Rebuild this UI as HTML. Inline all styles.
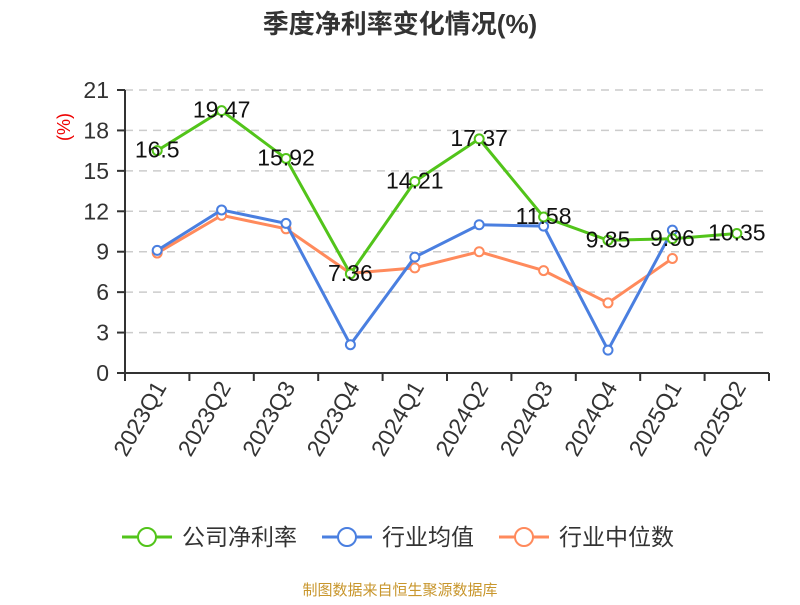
<!DOCTYPE html>
<html><head><meta charset="utf-8"><style>
body{margin:0;background:#fff;font-family:"Liberation Sans","Noto Sans CJK SC",sans-serif}
</style></head><body>
<svg id="c" width="800" height="600" xmlns="http://www.w3.org/2000/svg" style="font-family:'Liberation Sans','Noto Sans CJK SC',sans-serif">
<text x="400" y="33" text-anchor="middle" font-size="26" font-weight="bold" fill="#333">季度净利率变化情况(%)</text>
<text transform="translate(70,127) rotate(-90)" text-anchor="middle" font-size="18" fill="#e00">(%)</text>
<g id="grid"></g><g id="axes"></g><g id="series"></g><g id="labels"></g>
<g>
<g><line x1="122" y1="537" x2="172" y2="537" stroke="#52c41a" stroke-width="3"/><circle cx="147" cy="537" r="9" fill="#fff" stroke="#52c41a" stroke-width="2"/><text x="182" y="545" font-size="23" fill="#333">公司净利率</text></g>
<g><line x1="322" y1="537" x2="372" y2="537" stroke="#4a7fe0" stroke-width="3"/><circle cx="347" cy="537" r="9" fill="#fff" stroke="#4a7fe0" stroke-width="2"/><text x="382" y="545" font-size="23" fill="#333">行业均值</text></g>
<g><line x1="499" y1="537" x2="549" y2="537" stroke="#ff8a5c" stroke-width="3"/><circle cx="524" cy="537" r="9" fill="#fff" stroke="#ff8a5c" stroke-width="2"/><text x="559" y="545" font-size="23" fill="#333">行业中位数</text></g>
</g>
<text x="400" y="595" text-anchor="middle" font-size="15" fill="#c8962c">制图数据来自恒生聚源数据库</text>
</svg>
<script>
const categories=["2023Q1","2023Q2","2023Q3","2023Q4","2024Q1","2024Q2","2024Q3","2024Q4","2025Q1","2025Q2"];
const company=[16.5,19.47,15.92,7.36,14.21,17.37,11.58,9.85,9.96,10.35];
const industryAvg=[9.1,12.1,11.1,2.1,8.6,11.0,10.9,1.7,10.6];
const industryMedian=[8.9,11.7,10.7,7.4,7.8,9.0,7.6,5.2,8.5];
const yTicks=[0,3,6,9,12,15,18,21];
const NS="http://www.w3.org/2000/svg";
const x0=125,x1=769,y0=373,y1=90,ymax=21;
const bw=(x1-x0)/categories.length;
const X=i=>x0+bw*(i+0.5);
const Y=v=>y0-(v/ymax)*(y0-y1);
function mk(t,a,p){const e=document.createElementNS(NS,t);for(const k in a)e.setAttribute(k,a[k]);p.appendChild(e);return e;}
const grid=document.getElementById('grid'),axes=document.getElementById('axes');
yTicks.forEach(v=>{
 if(v>0){const l=mk('line',{x1:x0,x2:x1,y1:Y(v),y2:Y(v),stroke:'#ccc','stroke-width':1.5,'stroke-dasharray':'8,6'},grid);
 }
 const tk=mk('line',{x1:x0-8,x2:x0,y1:Y(v),y2:Y(v),stroke:'#333','stroke-width':2},axes);
 
 const t=mk('text',{x:x0-16,y:Y(v)+8,'text-anchor':'end','font-size':23,fill:'#333'},axes);t.textContent=v;
 
});
const ya=mk('line',{x1:x0,x2:x0,y1:y1,y2:y0,stroke:'#333','stroke-width':2},axes);

const xa=mk('line',{x1:x0,x2:x1,y1:y0,y2:y0,stroke:'#333','stroke-width':2},axes);

for(let i=0;i<=categories.length;i++){const tk=mk('line',{x1:x0+bw*i,x2:x0+bw*i,y1:y0,y2:y0+8,stroke:'#333','stroke-width':2},axes);
 }
categories.forEach((c,i)=>{const t=mk('text',{transform:`translate(${X(i)+10},${y0+14}) rotate(-60)`,'text-anchor':'end','font-size':23,fill:'#333'},axes);t.textContent=c;
 });
const S=document.getElementById('series');
function series(data,color,name){
 const g=mk('g',{},S);
 const p=mk('polyline',{points:data.map((v,i)=>X(i)+','+Y(v)).join(' '),fill:'none',stroke:color,'stroke-width':3},g);
 
 data.forEach((v,i)=>{const c=mk('circle',{cx:X(i),cy:Y(v),r:4.5,fill:'#fff',stroke:color,'stroke-width':2},g);
  });
}
series(industryMedian,'#ff8a5c','industry-median');
series(industryAvg,'#4a7fe0','industry-avg');
series(company,'#52c41a','company');
const L=document.getElementById('labels');
company.forEach((v,i)=>{const t=mk('text',{x:X(i),y:Y(v)+7,'text-anchor':'middle','font-size':23,fill:'#111'},L);t.textContent=v;
 });
</script>
</body></html>
